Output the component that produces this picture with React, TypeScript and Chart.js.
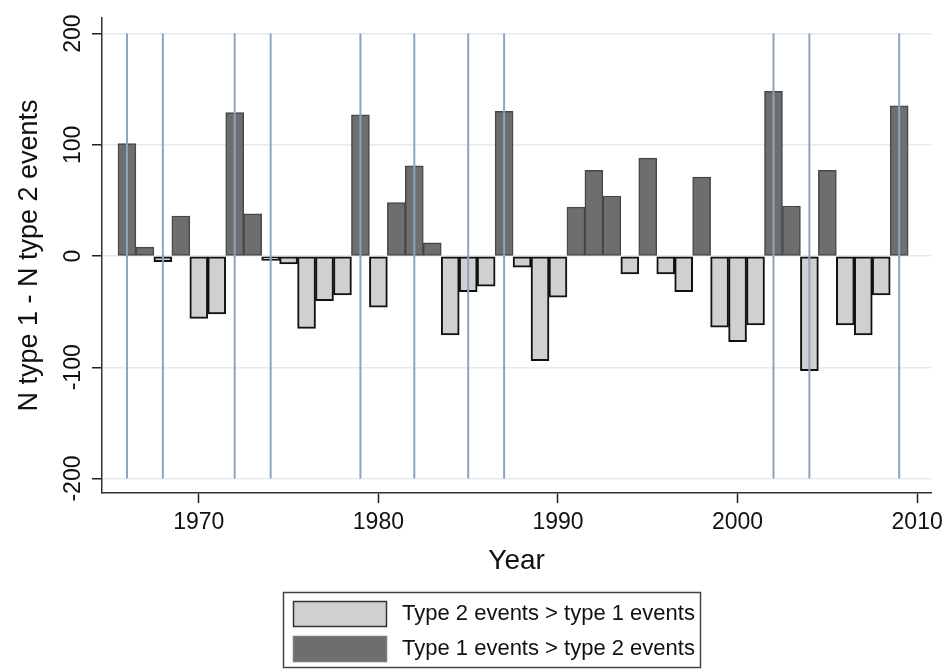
import { useEffect, useRef } from "react";
import { Chart, registerables } from "chart.js";

Chart.register(...registerables);

const years = [
  1966, 1967, 1968, 1969, 1970, 1971, 1972, 1973, 1974, 1975,
  1976, 1977, 1978, 1979, 1980, 1981, 1982, 1983, 1984, 1985,
  1986, 1987, 1988, 1989, 1990, 1991, 1992, 1993, 1994, 1995,
  1996, 1997, 1998, 1999, 2000, 2001, 2002, 2003, 2004, 2005,
  2006, 2007, 2008, 2009,
];

const diffValues = [
  101, 8, -5, 36, -56, -52, 129, 38, -4, -7,
  -65, -40, -35, 127, -46, 48, 81, 12, -71, -32,
  -27, 130, -10, -94, -37, 44, 77, 54, -16, 88,
  -16, -32, 71, -64, -77, -62, 148, 45, -103, 77,
  -62, -71, -35, 135,
];

const markerYears = [1966, 1968, 1972, 1974, 1979, 1982, 1985, 1987, 2002, 2004, 2009];

const xTickValues = [1970, 1980, 1990, 2000, 2010];
const yTickValues = [-200, -100, 0, 100, 200];

const seriesLabels = ["Type 2 events > type 1 events", "Type 1 events > type 2 events"];

const FONT = "'Liberation Sans', Arial, Helvetica, sans-serif";

const markerLinesPlugin = {
  id: "markerLines",
  afterDatasetsDraw(chart: any) {
    const { ctx, scales } = chart;
    const xs = scales.x;
    const ys = scales.y;
    const yTop = ys.getPixelForValue(Math.max(...yTickValues));
    const yBot = ys.getPixelForValue(Math.min(...yTickValues));
    ctx.save();
    ctx.strokeStyle = "#8fa3ba";
    ctx.lineWidth = 2;
    markerYears.forEach((yr) => {
      const x = xs.getPixelForValue(yr);
      ctx.beginPath();
      ctx.moveTo(x, yTop);
      ctx.lineTo(x, yBot);
      ctx.stroke();
    });
    ctx.restore();
  },
};

const yLabelsPlugin = {
  id: "yLabels",
  afterDraw(chart: any) {
    const { ctx, scales } = chart;
    const ys = scales.y;
    const cx = ys.right - 28;
    ctx.save();
    ctx.fillStyle = "#111";
    ctx.font = `23px ${FONT}`;
    ctx.textAlign = "center";
    ctx.textBaseline = "middle";
    yTickValues.forEach((v) => {
      const y = ys.getPixelForValue(v);
      ctx.save();
      ctx.translate(cx, y);
      ctx.rotate(-Math.PI / 2);
      ctx.fillText(String(v), 0, 0);
      ctx.restore();
    });
    ctx.restore();
  },
};

const legendBoxPlugin = {
  id: "legendBox",
  afterDraw(chart: any) {
    const { ctx } = chart;
    const ds = chart.data.datasets;
    ctx.save();
    ctx.strokeStyle = "#444";
    ctx.lineWidth = 1.5;
    ctx.strokeRect(283.5, 592.5, 417, 75);
    ds.forEach((d: any, i: number) => {
      const top = 601 + i * 35;
      ctx.fillStyle = d.backgroundColor;
      ctx.fillRect(293, top, 94, 26);
      ctx.strokeStyle = i === 0 ? "#333" : "#7a7a7a";
      ctx.lineWidth = 1.5;
      ctx.strokeRect(293.5, top + 0.5, 93, 25);
      ctx.fillStyle = "#111";
      ctx.font = `22px ${FONT}`;
      ctx.textBaseline = "middle";
      ctx.textAlign = "left";
      ctx.fillText(d.label, 402, top + 13);
    });
    ctx.restore();
  },
};

export default function App() {
  const canvasRef = useRef<HTMLCanvasElement | null>(null);

  useEffect(() => {
    if (!canvasRef.current) return;
    const negData = years
      .map((yr, i) => ({ x: yr, y: diffValues[i] }))
      .filter((p) => p.y < 0);
    const posData = years
      .map((yr, i) => ({ x: yr, y: diffValues[i] }))
      .filter((p) => p.y > 0);

    const chart = new Chart(canvasRef.current, {
      type: "bar",
      data: {
        datasets: [
          {
            label: seriesLabels[0],
            data: negData,
            backgroundColor: "#d0d0d0",
            borderColor: "#111111",
            borderWidth: 2,
            borderSkipped: false,
            barPercentage: 1,
            categoryPercentage: 1,
            grouped: false,
          } as any,
          {
            label: seriesLabels[1],
            data: posData,
            backgroundColor: "#6e6e6e",
            borderColor: "#474747",
            borderWidth: 1.5,
            borderSkipped: false,
            barPercentage: 1,
            categoryPercentage: 1,
            grouped: false,
          } as any,
        ],
      },
      options: {
        responsive: false,
        animation: false,
        layout: { padding: { top: 18, right: 16, left: 0, bottom: 86 } },
        plugins: {
          legend: { display: false },
          tooltip: { enabled: false },
        },
        scales: {
          x: {
            type: "linear",
            offset: false,
            min: 1964.61,
            max: 2010.78,
            afterFit: (s: any) => {
              s.height = 90;
            },
            afterBuildTicks: (s: any) => {
              s.ticks = xTickValues.map((v) => ({ value: v }));
            },
            grid: {
              offset: false,
              drawOnChartArea: false,
              drawTicks: true,
              tickLength: 10,
              tickColor: "#222",
              tickWidth: 1.5,
            },
            border: { display: true, color: "#333", width: 1.5 },
            ticks: {
              padding: 6,
              color: "#111",
              font: { family: FONT, size: 23 },
              maxRotation: 0,
              minRotation: 0,
              callback: (v: any) => String(v),
            },
            title: {
              display: true,
              text: "Year",
              color: "#111",
              font: { family: FONT, size: 28 },
              padding: { top: 0, bottom: 5 },
            },
          },
          y: {
            type: "linear",
            min: -213,
            max: 214,
            afterFit: (s: any) => {
              s.width = 102;
            },
            afterBuildTicks: (s: any) => {
              s.ticks = yTickValues.map((v) => ({ value: v }));
            },
            grid: {
              color: "#e3ebf1",
              lineWidth: 1.5,
              drawTicks: true,
              tickLength: 10,
              tickColor: "#222",
              tickWidth: 1.5,
            },
            border: { display: true, color: "#333", width: 1.5 },
            ticks: {
              display: false,
            },
            title: {
              display: true,
              text: "N type 1 - N type 2 events",
              color: "#111",
              font: { family: FONT, size: 27 },
              padding: { top: 13, bottom: 0 },
            },
          },
        },
      } as any,
      plugins: [markerLinesPlugin, yLabelsPlugin, legendBoxPlugin],
    });

    return () => chart.destroy();
  }, []);

  return (
    <div style={{ position: "absolute", left: 0, top: 0, width: 949, height: 669, background: "#fff" }}>
      <canvas ref={canvasRef} width={949} height={669} style={{ display: "block" }} />
    </div>
  );
}
